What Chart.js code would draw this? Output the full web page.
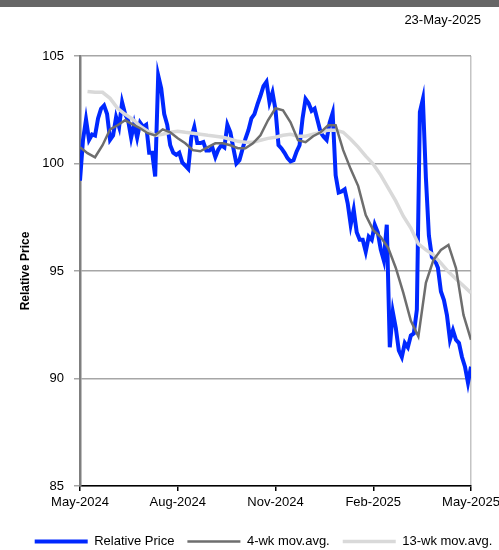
<!DOCTYPE html>
<html>
<head>
<meta charset="utf-8">
<script src="https://cdn.jsdelivr.net/npm/chart.js@4.4.1/dist/chart.umd.min.js"></script>
<style>
  body { margin: 0; background: #fff; }
  #wrap { position: relative; width: 499px; height: 550px; }
  #topbar { position: absolute; left: 0; top: 0; width: 499px; height: 7px; background: #666666; }
  #date { position: absolute; right: 18px; top: 12px; font: 13px "Liberation Sans", Arial, sans-serif; color: #000; }
  canvas { position: absolute; left: 0; top: 0; }
</style>
</head>
<body>
<div id="wrap">
  <canvas id="priceChart" width="499" height="550"></canvas>
  <div id="topbar"></div>
  <div id="date">23-May-2025</div>
</div>
<script>
// x is trading days since 23-May-2024 (260 days in the year)
const tickDays = [0, 65, 130, 195, 260];
const tickLabels = ["May-2024", "Aug-2024", "Nov-2024", "Feb-2025", "May-2025"];

// relative price, one value every 2 trading days
const relPrice = [
  99.2, 101.1, 102.05, 101.1, 101.35, 101.3, 102.1, 102.55, 102.7, 102.3,
  101.1, 101.3, 102.15, 101.7, 102.85, 102.3, 102.0, 101.2, 101.85, 101.2,
  101.9, 101.7, 101.8, 100.5, 100.5, 99.4, 104.1, 103.5, 102.3, 101.8,
  100.85, 100.5, 100.4, 100.5, 100.05, 99.9, 99.75, 101.2, 101.7, 100.95,
  100.95, 101.0, 100.6, 100.6, 100.75, 100.3, 100.65, 100.85, 100.75, 101.8,
  101.45, 100.7, 100.0, 100.15, 100.65, 101.15, 101.55, 102.1, 102.3, 102.75,
  103.15, 103.6, 103.8, 102.85, 103.3, 102.5, 100.85, 100.7, 100.5, 100.25,
  100.1, 100.15, 100.55, 100.85, 102.1, 103.0, 102.8, 102.45, 102.55, 102.0,
  101.45, 101.25, 101.1, 101.9, 102.35, 99.45, 98.65, 98.7, 98.8, 98.15,
  97.15, 97.85, 96.8, 96.45, 96.45, 95.9, 96.6, 96.45, 97.15, 96.8,
  96.0, 95.5, 97.15, 91.45, 93.1, 92.35, 91.3, 91.0, 91.65, 91.45,
  92.0, 92.1, 93.2, 102.4, 103.0, 99.35, 96.65, 95.65, 95.5, 95.15,
  94.05, 93.65, 92.95, 91.8, 92.25, 91.8, 91.65, 91.0, 90.55, 89.8,
  90.55
];

// weekly values (every 5 trading days)
const ma4wk = [
  100.76, 100.48, 100.29, 100.85, 101.59, 101.78, 102.01, 101.82, 101.64, 101.41,
  101.31, 101.59, 101.45, 101.17, 100.94, 100.62, 100.57, 100.76, 100.94, 100.94,
  100.85, 100.71, 100.71, 100.94, 101.31, 102.01, 102.57, 102.47, 101.92, 101.08,
  100.99, 101.27, 101.45, 101.78, 101.78, 100.62, 99.74, 98.95, 97.6, 96.9,
  96.58, 96.07, 95.14, 93.98, 92.68, 91.95, 94.45, 95.51, 95.98, 96.21,
  95.14, 92.96, 91.8
];

// weekly values, starting at week 1
const ma13wk = [
  103.35, 103.31, 103.31, 103.03, 102.57, 102.29, 102.06, 101.73, 101.5, 101.31,
  101.36, 101.45, 101.5, 101.45, 101.41, 101.36, 101.31, 101.27, 101.22, 101.13,
  101.03, 100.99, 100.99, 101.08, 101.17, 101.22, 101.31, 101.36, 101.27, 101.27,
  101.36, 101.45, 101.55, 101.55, 101.45, 101.13, 100.76, 100.34, 99.97, 99.46,
  98.85, 98.25, 97.55, 97.0, 96.26, 95.98, 95.75, 95.37, 94.96, 94.63,
  94.31, 93.98
];

Chart.defaults.font.family = '"Liberation Sans", Arial, sans-serif';
Chart.defaults.color = "#000";

// legend in the original sits a little right of centre
const shiftLegend = {
    id: "shiftLegend",
    afterLayout(chart) {
        chart.legend.left += 14;
        chart.legend.right += 14;
    },
};

const ctx = document.getElementById("priceChart").getContext("2d");
new Chart(ctx, {
    type: "line",
    data: {
        datasets: [
            {
                label: "Relative Price",
                data: relPrice.map((v, i) => ({ x: i * 2, y: v })),
                borderColor: "#0028ff",
                backgroundColor: "#0028ff",
                borderWidth: 4,
                order: 3,
            },
            {
                label: "4-wk mov.avg.",
                data: ma4wk.map((v, i) => ({ x: i * 5, y: v })),
                borderColor: "#6e6e6e",
                backgroundColor: "#6e6e6e",
                borderWidth: 2.5,
                order: 1,
            },
            {
                label: "13-wk mov.avg.",
                data: ma13wk.map((v, i) => ({ x: (i + 1) * 5, y: v })),
                borderColor: "#d9d9d9",
                backgroundColor: "#d9d9d9",
                borderWidth: 3.5,
                order: 2,
            },
        ],
    },
    options: {
        responsive: false,
        animation: false,
        elements: {
            point: { radius: 0 },
            line: { tension: 0 },
        },
        layout: {
            padding: { top: 56, left: 0, right: 0, bottom: -8 },
        },
        scales: {
            x: {
                type: "linear",
                min: 0,
                max: 260,
                afterBuildTicks: (scale) => {
                    scale.ticks = tickDays.map((d) => ({ value: d }));
                },
                afterFit: (scale) => {
                    scale.height = 36;
                    scale.paddingLeft = 0;
                    scale.paddingRight = 28;
                },
                ticks: {
                    autoSkip: false,
                    maxRotation: 0,
                    padding: 4,
                    font: { size: 13 },
                    callback: (v, i) => tickLabels[i],
                },
                grid: {
                    color: (c) => (c.index === 4 ? "#c4c4c4" : "rgba(0,0,0,0)"),
                    tickColor: "#000",
                    tickLength: 5,
                    lineWidth: 1.5,
                },
                border: { color: "#000", width: 1.5 },
            },
            y: {
                min: 85,
                max: 105,
                afterFit: (scale) => {
                    scale.width = 80;
                },
                ticks: { stepSize: 5, padding: 10, font: { size: 13 } },
                grid: { color: "#a6a6a6", lineWidth: 1.5, tickLength: 6 },
                border: { color: "#7f7f7f", width: 2.5 },
                title: {
                    display: true,
                    text: "Relative Price",
                    font: { size: 12, weight: "bold" },
                    padding: { top: 18, bottom: 0 },
                },
            },
        },
        plugins: {
            legend: {
                position: "bottom",
                labels: {
                    usePointStyle: true,
                    pointStyle: "line",
                    pointStyleWidth: 53,
                    padding: 13,
                    font: { size: 13 },
                    sort: (a, b) => a.datasetIndex - b.datasetIndex,
                },
            },
            tooltip: { enabled: false },
        },
    },
    plugins: [shiftLegend],
});
</script>
</body>
</html>
